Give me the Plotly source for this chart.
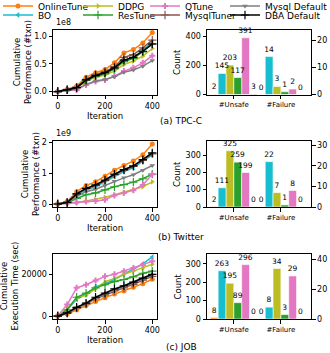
import plotly.graph_objects as go

W, H = 330, 353

# ---------------- data ----------------
methods = ["OnlineTune", "BO", "DDPG", "ResTune", "QTune", "MysqlTuner",
           "Mysql Default", "DBA Default"]
colors = ["#ff7f0e", "#17becf", "#bcbd22", "#2ca02c", "#e377c2", "#8c564b",
          "#7f7f7f", "#000000"]
symbols = ["circle", "triangle-left", "triangle-right", "cross-thin", "cross",
           "cross-thin", "triangle-down", "cross-thin"]

iterations = [0, 40, 80, 120, 160, 200, 240, 280, 320, 360, 400]

# TPC-C cumulative performance (x1e8 txn)
tpcc_online = [0, 0.04, 0.10, 0.26, 0.34, 0.40, 0.52, 0.70, 0.76, 0.88, 1.07]
tpcc_bo = [0, 0.03, 0.07, 0.20, 0.28, 0.33, 0.42, 0.56, 0.62, 0.74, 0.90]
tpcc_ddpg = [0, 0.03, 0.06, 0.19, 0.26, 0.30, 0.37, 0.49, 0.55, 0.64, 0.78]
tpcc_restune = [0, 0.03, 0.07, 0.20, 0.27, 0.32, 0.41, 0.54, 0.60, 0.72, 0.87]
tpcc_qtune = [0, 0.02, 0.03, 0.12, 0.18, 0.21, 0.28, 0.37, 0.43, 0.52, 0.65]
tpcc_mysqltuner = [0, 0.04, 0.08, 0.22, 0.31, 0.36, 0.45, 0.62, 0.67, 0.79, 0.93]
tpcc_mysql_default = [0, 0.02, 0.04, 0.13, 0.19, 0.22, 0.27, 0.35, 0.39, 0.46, 0.56]
tpcc_dba = [0, 0.03, 0.07, 0.21, 0.29, 0.34, 0.43, 0.57, 0.62, 0.73, 0.86]

# Twitter cumulative performance (x1e9 txn)
tw_online = [0, 0.08, 0.40, 0.60, 0.72, 0.90, 1.10, 1.25, 1.40, 1.60, 1.95]
tw_bo = [0, 0.04, 0.28, 0.46, 0.56, 0.72, 0.90, 1.05, 1.18, 1.38, 1.60]
tw_ddpg = [0, 0.02, 0.05, 0.10, 0.15, 0.22, 0.30, 0.38, 0.46, 0.56, 0.72]
tw_restune = [0, 0.03, 0.18, 0.30, 0.36, 0.46, 0.56, 0.63, 0.71, 0.82, 0.97]
tw_qtune = [0, 0.02, 0.05, 0.08, 0.10, 0.14, 0.28, 0.36, 0.45, 0.62, 0.97]
tw_mysqltuner = [0, 0.05, 0.33, 0.50, 0.60, 0.76, 0.95, 1.10, 1.22, 1.42, 1.63]
tw_mysql_default = [0, 0.04, 0.25, 0.40, 0.48, 0.60, 0.74, 0.85, 0.95, 1.10, 1.25]
tw_dba = [0, 0.05, 0.33, 0.51, 0.62, 0.78, 0.97, 1.12, 1.24, 1.44, 1.66]

# JOB cumulative execution time (sec)
job_online = [0, 1000, 3000, 5000, 7000, 8800, 10500, 12000, 13800, 15500, 17600]
job_bo = [0, 3000, 8000, 10500, 14000, 15500, 17500, 20000, 22500, 25000, 28300]
job_ddpg = [0, 3500, 8500, 10000, 13000, 16500, 18000, 20000, 21500, 23000, 24800]
job_restune = [0, 3000, 9000, 11000, 13500, 15000, 16500, 17500, 18800, 20500, 21500]
job_qtune = [0, 5500, 13500, 15000, 17000, 19000, 20000, 21500, 23000, 24500, 26200]
job_mysqltuner = [0, 1300, 3800, 5800, 8200, 10000, 12000, 13500, 15200, 17200, 19000]
job_mysql_default = [0, 1400, 4000, 6000, 8500, 10500, 12500, 14000, 15800, 17700, 19600]
job_dba = [0, 1500, 4200, 6200, 9000, 11000, 13000, 14500, 16200, 18200, 20000]

# unsafe / failure counts (OnlineTune, BO, DDPG, ResTune, QTune, MysqlTuner)
bar_categories = ["#Unsafe", "#Failure"]
tpcc_unsafe = [2, 145, 203, 117, 391, 3]
tpcc_failure = [0, 14, 3, 1, 2, 0]
tw_unsafe = [2, 111, 325, 259, 199, 0]
tw_failure = [0, 22, 7, 1, 8, 0]
job_unsafe = [8, 263, 195, 89, 296, 0]
job_failure = [0, 8, 34, 3, 29, 0]

panels = [
    dict(lines=[tpcc_online, tpcc_bo, tpcc_ddpg, tpcc_restune, tpcc_qtune,
                tpcc_mysqltuner, tpcc_mysql_default, tpcc_dba],
         unsafe=tpcc_unsafe, failure=tpcc_failure,
         top=29.5, bottom=94.5, ydtick=0.5, yfmt=".1f", exp="1e8",
         ytitle="Cumulative<br>Performance (#txn)", title_x=22,
         caption="(a) TPC-C", cap_y=121,
         lrange=[0, 448], rrange=[0, 24], ldtick=200, rdtick=10),
    dict(lines=[tw_online, tw_bo, tw_ddpg, tw_restune, tw_qtune,
                tw_mysqltuner, tw_mysql_default, tw_dba],
         unsafe=tw_unsafe, failure=tw_failure,
         top=141, bottom=207, ydtick=1, yfmt="d", exp="1e9",
         ytitle="Cumulative<br>Performance (#txn)", title_x=30,
         caption="(b) Twitter", cap_y=237,
         lrange=[0, 381], rrange=[0, 32], ldtick=100, rdtick=10),
    dict(lines=[job_online, job_bo, job_ddpg, job_restune, job_qtune,
                job_mysqltuner, job_mysql_default, job_dba],
         unsafe=job_unsafe, failure=job_failure,
         top=254, bottom=319, ydtick=20000, yfmt="d", exp=None,
         ytitle="Cumulative<br>Execution Time (sec)", title_x=9,
         caption="(c) JOB", cap_y=347,
         lrange=[0, 354], rrange=[0, 43.8], ldtick=100, rdtick=20),
]

FONT = "DejaVu Sans"
TICKFONT = dict(family=FONT, size=8, color="black")


def px(x):
    return x / W


def py(y):
    return 1 - y / H


fig = go.Figure()
layout = dict(
    width=W, height=H,
    margin=dict(l=0, r=0, t=0, b=0, autoexpand=False),
    paper_bgcolor="white", plot_bgcolor="white",
    font=dict(family=FONT, size=8, color="black"),
    showlegend=True,
    annotations=[],
)

axis_common = dict(showline=True, linecolor="black", linewidth=1, mirror=True,
                   ticks="outside", ticklen=3.5, tickwidth=0.8, tickcolor="black",
                   showgrid=False, zeroline=False, tickfont=TICKFONT)

for p_i, p in enumerate(panels):
    lx = "x%d" % (3 * p_i + 1)
    ly = "y%d" % (3 * p_i + 1)
    bx = "x%d" % (3 * p_i + 2)
    by = "y%d" % (3 * p_i + 2)
    by2 = "y%d" % (3 * p_i + 3)
    dom_y = [py(p["bottom"]), py(p["top"])]

    # line chart
    ymax = max(max(s) for s in p["lines"])
    for m_i, series in enumerate(p["lines"]):
        thin = symbols[m_i] == "cross-thin"
        fig.add_trace(go.Scatter(
            x=iterations, y=series, mode="lines+markers", name=methods[m_i],
            line=dict(color=colors[m_i], width=1.5),
            marker=dict(symbol=symbols[m_i], size=6 if thin else 5, color=colors[m_i],
                        line=dict(color=colors[m_i], width=1.2 if thin else 0)),
            xaxis=lx, yaxis=ly, showlegend=(p_i == 0),
            legend="legend" if m_i == 0 else "legend%d" % (m_i + 1),
        ))
    layout["xaxis%d" % (3 * p_i + 1)] = dict(
        axis_common, domain=[px(53), px(157)], anchor=ly, range=[-20, 420],
        tickvals=[0, 200, 400],
        title=dict(text="Iteration", font=dict(family=FONT, size=8.5), standoff=2))
    layout["yaxis%d" % (3 * p_i + 1)] = dict(
        axis_common, domain=dom_y, anchor=lx, range=[-0.05 * ymax, 1.05 * ymax],
        dtick=p["ydtick"], tick0=0, tickformat=p["yfmt"])

    # bar chart: unsafe on left axis, failure on right axis
    # taller bars drawn first so the labels of shorter ones stay on top
    for cat_i, vals, yax in [(0, p["unsafe"], by), (1, p["failure"], by2)]:
        order = sorted(range(6), key=lambda k: -vals[k])
        for m_i in order:
            fig.add_trace(go.Bar(
                x=[cat_i], y=[vals[m_i]], width=1 / 6, offset=-0.5 + m_i / 6,
                marker=dict(color=colors[m_i], line=dict(color="white", width=0.6)),
                text=[str(vals[m_i])], textposition="outside", constraintext="none",
                textfont=dict(family=FONT, size=7.5, color="black"),
                cliponaxis=False, showlegend=False, xaxis=bx, yaxis=yax,
            ))
    layout["xaxis%d" % (3 * p_i + 2)] = dict(
        axis_common, domain=[px(207), px(311)], anchor=by, range=[-0.57, 1.64],
        tickvals=[0, 1], ticktext=bar_categories,
        tickfont=dict(family=FONT, size=7, color="black"))
    layout["yaxis%d" % (3 * p_i + 2)] = dict(
        axis_common, domain=dom_y, anchor=bx, range=p["lrange"], dtick=p["ldtick"])
    layout["yaxis%d" % (3 * p_i + 3)] = dict(
        axis_common, overlaying=by, anchor=bx, side="right", showline=False,
        mirror=False, range=p["rrange"], dtick=p["rdtick"])

    # annotations
    mid = (p["top"] + p["bottom"]) / 2
    layout["annotations"].append(dict(
        text=p["ytitle"], x=px(p["title_x"]), y=py(mid), xref="paper", yref="paper",
        textangle=-90, showarrow=False, font=dict(family=FONT, size=8.5),
        xanchor="center", yanchor="middle"))
    layout["annotations"].append(dict(
        text="Count", x=px(177), y=py(mid), xref="paper", yref="paper",
        textangle=-90, showarrow=False, font=dict(family=FONT, size=8.5),
        xanchor="center", yanchor="middle"))
    layout["annotations"].append(dict(
        text=p["caption"], x=px(181), y=py(p["cap_y"]), xref="paper", yref="paper",
        showarrow=False, font=dict(family=FONT, size=9),
        xanchor="center", yanchor="middle"))
    if p["exp"]:
        layout["annotations"].append(dict(
            text=p["exp"], x=px(54), y=py(p["top"] - 1), xref="paper", yref="paper",
            showarrow=False, font=dict(family=FONT, size=8),
            xanchor="left", yanchor="bottom"))

# legend: one small legend per entry, laid out in 4 columns x 2 rows
col_text_x = [38, 118, 185, 265]
row_y = [6, 15]
for m_i in range(8):
    key = "legend" if m_i == 0 else "legend%d" % (m_i + 1)
    layout[key] = dict(
        x=px(col_text_x[m_i // 2] - 40), y=py(row_y[m_i % 2]),
        xanchor="left", yanchor="middle", orientation="h",
        bgcolor="rgba(0,0,0,0)", borderwidth=0,
        font=dict(family=FONT, size=9, color="black"), itemwidth=30)

fig.update_layout(**layout)
# the page body has a default 8px margin; drop it so the figure fills the window
fig.write_html("out.html", config={"displayModeBar": False},
               post_script="document.body.style.margin='0px';")
